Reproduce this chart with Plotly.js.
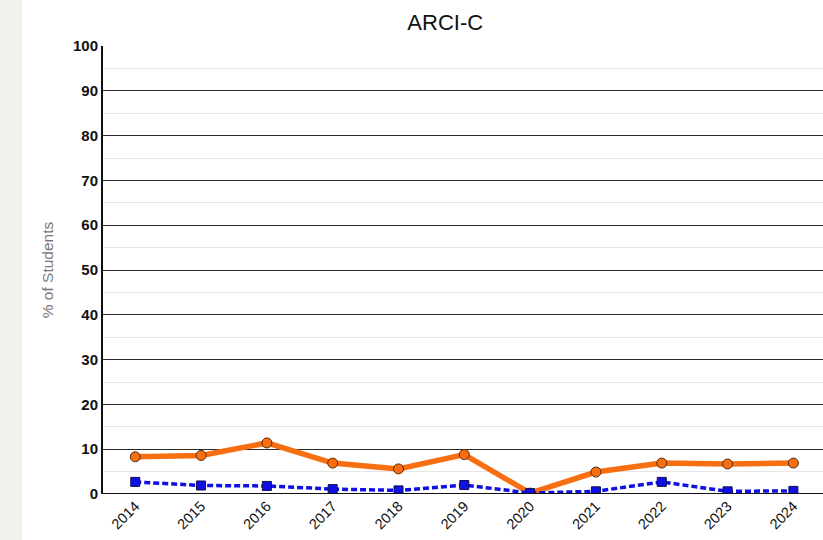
<!DOCTYPE html>
<html><head><meta charset="utf-8">
<script src="https://cdn.plot.ly/plotly-3.0.1.min.js"></script>
<style>
html,body{margin:0;padding:0;}
body{width:823px;height:540px;overflow:hidden;background:linear-gradient(to right,#f2f0ea 0,#f2f0ea 22px,#ffffff 22px);}
#chart{position:absolute;left:0;top:0;width:823px;height:540px;}
</style></head>
<body><div id="chart"></div>
<script>
var years = ["2014","2015","2016","2017","2018","2019","2020","2021","2022","2023","2024"];
var orangeSeries = [8.3, 8.6, 11.4, 6.9, 5.6, 8.8, 0.2, 4.9, 6.9, 6.7, 6.9];
var blueSeries = [2.7, 1.9, 1.8, 1.1, 0.8, 2.0, 0.2, 0.6, 2.7, 0.6, 0.7];
var yTicks = [0,10,20,30,40,50,60,70,80,90,100];

var traces = [
  {x: years, y: orangeSeries, type:'scatter', mode:'lines+markers', name:'Series A',
   line:{color:'#f86f12', width:5.5},
   marker:{symbol:'circle', size:10, color:'#f86f12', line:{color:'#5a2a0a', width:1}}},
  {x: years, y: blueSeries, type:'scatter', mode:'lines+markers', name:'Series B',
   line:{color:'#0f10e6', width:3.5, dash:'6px,3px'},
   marker:{symbol:'square', size:9, color:'#0f10e6', line:{color:'#10104a', width:1}}}
];
var layout = {
  width:823, height:540,
  paper_bgcolor:'rgba(0,0,0,0)', plot_bgcolor:'#ffffff',
  margin:{l:103, r:0, t:46, b:46},
  showlegend:false,
  title:{text:'ARCI-C', font:{family:'Arial, Liberation Sans', size:22, color:'#111'}, xref:'container', x:0.541, xanchor:'center', y:0.958, yanchor:'middle'},
  xaxis:{type:'category', range:[-0.49,10.45], showgrid:false, zeroline:false, showline:false,
    tickangle:-45, tickfont:{family:'Arial, Liberation Sans', size:14.5, color:'#111'}, ticks:'', ticklen:0},
  yaxis:{range:[0,100], tickvals:yTicks, ticktext:yTicks.map(String), showgrid:true, gridcolor:'#2a2a2a', gridwidth:1,
    zeroline:false, showline:true, linecolor:'#111', linewidth:2, mirror:false, ticks:'', ticklabelstandoff:0,
    tickfont:{family:'Arial, Liberation Sans', size:15, color:'#111', weight:'bold'},
    minor:{dtick:5, tick0:0, showgrid:true, gridcolor:'#e6e6e6', gridwidth:1},
    title:{text:'% of Students', font:{family:'Arial, Liberation Sans', size:15.5, color:'#777'}, standoff:16}},
  shapes:[{type:'line', xref:'paper', yref:'y', x0:0, x1:1, y0:0, y1:0, line:{color:'#111', width:2}}]
};
Plotly.newPlot('chart', traces, layout, {displayModeBar:false, staticPlot:true});
</script></body></html>
